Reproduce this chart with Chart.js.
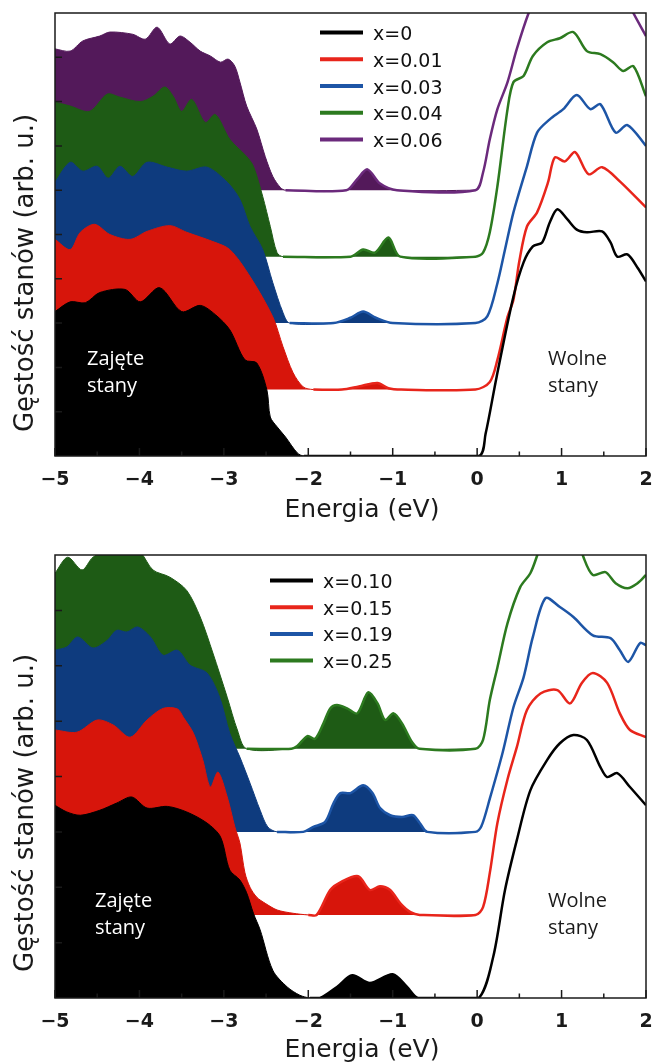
<!DOCTYPE html>
<html>
<head>
<meta charset="utf-8">
<script src="https://cdn.jsdelivr.net/npm/chart.js@4.4.1/dist/chart.umd.min.js"></script>
<style>
  body { margin: 0; background: #fff; width: 654px; height: 1063px; overflow: hidden; position: relative; }
  .panel { position: absolute; left: 0; width: 654px; }
  #topPanel { top: 0; height: 530px; }
  #bottomPanel { top: 540px; height: 523px; }
</style>
</head>
<body>
<div class="panel" id="topPanel"><canvas id="dosTop" width="654" height="530"></canvas></div>
<div class="panel" id="bottomPanel"><canvas id="dosBottom" width="654" height="523"></canvas></div>
<script>
// energy axis
const energyTicks = [-5, -4.5, -4, -3.5, -3, -2.5, -2, -1.5, -1, -0.5, 0, 0.5, 1, 1.5, 2];

// ---- upper panel: x = 0 ... 0.06 (DOS relative to each curve's own baseline)
const topLabels = ['x=0', 'x=0.01', 'x=0.03', 'x=0.04', 'x=0.06'];
const topOffsets = [0, 1.5, 3, 4.5, 6];

const topE0 = [-5, -4.82, -4.64, -4.47, -4.17, -3.99, -3.76, -3.5, -3.28, -3.1, -2.93, -2.75, -2.61, -2.49, -2.45, -2.37, -2.27, -2.13, -2.05, -1, 0.02, 0.1, 0.23, 0.43, 0.55, 0.66, 0.77, 0.86, 0.95, 1.07, 1.18, 1.3, 1.48, 1.58, 1.66, 1.78, 1.9, 2];
const topD0 = [3.26, 3.48, 3.46, 3.69, 3.76, 3.48, 3.8, 3.26, 3.4, 3.19, 2.85, 2.17, 2.1, 1.49, 0.88, 0.66, 0.43, 0.07, 0, 0, 0, 0.5, 1.78, 3.6, 4.37, 4.73, 4.82, 5.27, 5.57, 5.34, 5.11, 5.05, 5.07, 4.82, 4.5, 4.55, 4.25, 3.94];

const topE1 = [-5, -4.82, -4.7, -4.53, -4.35, -4.11, -3.91, -3.64, -3.44, -3.13, -2.93, -2.69, -2.42, -2.3, -2.18, -2.06, -1.94, -1.6, -1.4, -1.18, -1.05, -0.9, -0.02, 0.15, 0.24, 0.36, 0.43, 0.5, 0.59, 0.71, 0.84, 0.92, 1.04, 1.16, 1.32, 1.48, 1.69, 2];
const topD1 = [3.39, 3.16, 3.55, 3.73, 3.5, 3.39, 3.57, 3.7, 3.55, 3.34, 3.16, 2.55, 1.64, 0.97, 0.38, 0.06, 0, 0, 0.07, 0.15, 0.03, 0, 0, 0.17, 0.67, 1.64, 2.03, 2.9, 3.68, 4.0, 4.68, 5.24, 5.15, 5.36, 4.86, 5.02, 4.7, 4.11];

const topE2 = [-5, -4.82, -4.67, -4.5, -4.37, -4.23, -4.08, -3.91, -3.67, -3.44, -3.2, -2.96, -2.81, -2.69, -2.54, -2.42, -2.3, -2.22, -1.7, -1.5, -1.35, -1.2, -1.0, -0.02, 0.12, 0.24, 0.33, 0.43, 0.59, 0.71, 0.86, 1.02, 1.18, 1.34, 1.46, 1.64, 1.78, 2];
const topD2 = [3.18, 3.63, 3.43, 3.54, 3.27, 3.54, 3.31, 3.63, 3.52, 3.43, 3.52, 3.18, 2.79, 2.18, 1.66, 0.91, 0.24, 0, 0, 0.12, 0.26, 0.12, 0, 0, 0.15, 0.9, 1.66, 2.5, 3.54, 4.3, 4.6, 4.83, 5.15, 4.83, 4.94, 4.3, 4.47, 4.0];

const topE3 = [-5, -4.82, -4.59, -4.38, -4.23, -3.99, -3.84, -3.7, -3.6, -3.5, -3.38, -3.22, -3.1, -2.93, -2.73, -2.65, -2.54, -2.45, -2.37, -2.3, -1.5, -1.35, -1.21, -1.05, -0.91, -0.02, 0.07, 0.15, 0.24, 0.36, 0.43, 0.55, 0.66, 0.83, 0.98, 1.14, 1.3, 1.46, 1.61, 1.73, 1.85, 2];
const topD3 = [3.49, 3.4, 3.28, 3.67, 3.6, 3.5, 3.62, 3.83, 3.62, 3.28, 3.55, 3.03, 3.21, 2.65, 2.26, 2.04, 1.36, 0.68, 0.09, 0, 0, 0.16, 0.09, 0.43, 0, 0, 0.09, 0.55, 1.59, 3.33, 3.94, 4.08, 4.53, 4.84, 4.93, 5.07, 4.64, 4.57, 4.39, 4.19, 4.3, 3.62];

const topE4 = [-5, -4.82, -4.67, -4.47, -4.35, -4.08, -3.93, -3.79, -3.64, -3.52, -3.4, -3.28, -3.16, -3.04, -2.95, -2.87, -2.81, -2.73, -2.61, -2.51, -2.42, -2.33, -2.27, -1.55, -1.42, -1.3, -1.15, -0.95, -0.02, 0.07, 0.15, 0.24, 0.36, 0.47, 0.61, 0.75, 1.0, 1.5, 1.75, 1.85, 2];
const topD4 = [3.19, 3.14, 3.37, 3.48, 3.57, 3.52, 3.41, 3.68, 3.3, 3.48, 3.34, 3.14, 3.03, 2.89, 2.96, 2.8, 2.44, 1.9, 1.38, 0.76, 0.31, 0.06, 0, 0, 0.25, 0.47, 0.15, 0, 0, 0.4, 1.15, 1.83, 2.44, 3.19, 4.0, 4.6, 5, 5, 4.4, 4.0, 3.48];

// ---- lower panel: x = 0.10 ... 0.25
const bottomLabels = ['x=0.10', 'x=0.15', 'x=0.19', 'x=0.25'];
const bottomOffsets = [0, 1.5, 3, 4.5];

const botE0 = [-5, -4.86, -4.7, -4.47, -4.27, -4.09, -3.91, -3.67, -3.44, -3.2, -3.04, -2.93, -2.81, -2.73, -2.65, -2.57, -2.42, -2.25, -2.1, -1.98, -1.86, -1.66, -1.48, -1.27, -1.0, -0.83, -0.7, -0.3, 0.02, 0.19, 0.33, 0.47, 0.63, 0.83, 0.98, 1.14, 1.3, 1.46, 1.54, 1.66, 1.81, 2];
const botD0 = [3.48, 3.36, 3.3, 3.39, 3.52, 3.63, 3.43, 3.46, 3.36, 3.16, 2.91, 2.31, 2.13, 1.9, 1.53, 1.23, 0.5, 0.2, 0.05, 0, 0, 0.2, 0.41, 0.27, 0.43, 0.2, 0, 0, 0, 0.74, 1.95, 2.85, 3.75, 4.3, 4.6, 4.75, 4.66, 4.17, 3.99, 4.06, 3.81, 3.48];

const botE1 = [-5, -4.74, -4.5, -4.31, -4.11, -3.91, -3.72, -3.55, -3.48, -3.36, -3.25, -3.16, -3.07, -2.96, -2.87, -2.81, -2.75, -2.69, -2.61, -2.51, -2.37, -2.18, -2.0, -1.9, -1.74, -1.62, -1.41, -1.27, -1.15, -1.03, -0.91, -0.79, -0.68, -0.02, 0.07, 0.15, 0.24, 0.36, 0.47, 0.59, 0.75, 0.95, 1.1, 1.24, 1.37, 1.54, 1.69, 1.81, 2];
const botD1 = [3.34, 3.3, 3.52, 3.43, 3.21, 3.52, 3.73, 3.72, 3.57, 3.28, 2.8, 2.31, 2.58, 2.13, 1.59, 1.3, 0.76, 0.5, 0.32, 0.21, 0.09, 0.03, 0, 0, 0.45, 0.59, 0.7, 0.45, 0.52, 0.45, 0.21, 0.05, 0, 0, 0.14, 0.76, 1.66, 2.45, 3.03, 3.7, 4.0, 4.06, 3.82, 4.19, 4.37, 4.19, 3.64, 3.34, 3.21];

const botE2 = [-5, -4.86, -4.73, -4.55, -4.38, -4.27, -4.15, -4.02, -3.87, -3.72, -3.55, -3.4, -3.2, -3.05, -2.93, -2.81, -2.69, -2.57, -2.48, -2.37, -2.06, -1.94, -1.8, -1.7, -1.62, -1.5, -1.35, -1.24, -1.15, -1.03, -0.89, -0.76, -0.68, -0.59, -0.02, 0.05, 0.15, 0.3, 0.43, 0.55, 0.66, 0.81, 0.98, 1.14, 1.37, 1.58, 1.69, 1.79, 1.93, 2];
const botD2 = [3.28, 3.34, 3.52, 3.32, 3.46, 3.64, 3.61, 3.7, 3.52, 3.19, 3.28, 3.01, 2.87, 2.43, 1.78, 1.35, 0.88, 0.39, 0.09, 0, 0, 0.09, 0.18, 0.52, 0.7, 0.7, 0.84, 0.7, 0.43, 0.3, 0.27, 0.3, 0.16, 0, 0, 0.1, 0.6, 1.42, 2.25, 2.79, 3.52, 4.22, 4.06, 3.88, 3.55, 3.5, 3.28, 3.07, 3.41, 3.37];

const botE3 = [-5, -4.85, -4.68, -4.55, -4.35, -4.15, -3.99, -3.84, -3.64, -3.44, -3.28, -3.13, -2.96, -2.84, -2.73, -2.2, -2.13, -2.01, -1.92, -1.82, -1.74, -1.66, -1.54, -1.42, -1.29, -1.18, -1.09, -0.99, -0.89, -0.77, -0.68, -0.02, 0.07, 0.15, 0.24, 0.36, 0.51, 0.63, 0.72, 0.85, 1.0, 1.15, 1.26, 1.37, 1.52, 1.64, 1.78, 1.9, 2];
const botD3 = [3.17, 3.46, 3.23, 3.46, 3.6, 3.65, 3.55, 3.23, 3.1, 2.86, 2.38, 1.73, 0.93, 0.34, 0, 0, 0.05, 0.23, 0.18, 0.46, 0.73, 0.79, 0.73, 0.64, 1.02, 0.82, 0.52, 0.64, 0.46, 0.12, 0, 0, 0.16, 0.88, 1.47, 2.27, 2.92, 3.17, 3.53, 4.1, 4.3, 4.0, 3.46, 3.14, 3.19, 2.99, 2.9, 2.99, 3.14];

const lineColors = ['#000000', '#e8251b', '#1d55a6', '#2c7a1f', '#6b2a7c'];
const fillColors = ['#000000', '#d7150b', '#0e3b7e', '#1e5b15', '#53195a'];

// a curve is two datasets: the occupied part filled down to its baseline,
// and the outline from the band edge onwards
function curveSets(energy, dos, offset, label, i) {
  const pts = energy.map((e, k) => ({ x: e, y: dos[k] + offset }));
  const start = dos.indexOf(0);
  return [
    {
      label: label,
      data: pts.slice(start),
      borderColor: lineColors[i],
      borderWidth: 2.5,
      pointRadius: 0,
      fill: false,
      tension: 0.3
    },
    {
      label: '',
      data: pts.filter(p => p.x <= 0),
      borderColor: fillColors[i],
      backgroundColor: fillColors[i],
      borderWidth: 1,
      pointRadius: 0,
      fill: { value: offset },
      tension: 0.3
    }
  ];
}

// frame, inward ticks, axis titles, legend and the two notes
const decor = {
  id: 'decor',
  afterDatasetsDraw(chart, args, o) {
    const { ctx, chartArea: a, scales: { x, y } } = chart;
    ctx.save();
    ctx.strokeStyle = '#1a1a1a';
    ctx.lineWidth = 1.5;
    ctx.beginPath();
    energyTicks.forEach(e => {
      const px = x.getPixelForValue(e);
      const len = Number.isInteger(e) ? 8 : 4.5;
      ctx.moveTo(px, a.bottom);
      ctx.lineTo(px, a.bottom - len);
    });
    for (let v = 1; v < o.yMax; v++) {
      const py = y.getPixelForValue(v);
      ctx.moveTo(a.left, py);
      ctx.lineTo(a.left + 7, py);
    }
    ctx.stroke();
    ctx.strokeRect(a.left, a.top, a.right - a.left, a.bottom - a.top);

    // axis titles
    ctx.fillStyle = '#1a1a1a';
    ctx.font = '25px "DejaVu Sans"';
    ctx.textAlign = 'center';
    ctx.textBaseline = 'alphabetic';
    ctx.fillText('Energia (eV)', 362, 517);
    ctx.save();
    ctx.translate(33, 273);
    ctx.rotate(-Math.PI / 2);
    ctx.font = '26px "DejaVu Sans"';
    ctx.fillText('Gęstość stanów (arb. u.)', 0, 0);
    ctx.restore();

    // legend
    ctx.font = '19px "DejaVu Sans"';
    ctx.textAlign = 'left';
    chart.data.datasets.filter(d => d.label).forEach((d, k) => {
      const by = o.legend.y + k * o.legend.gap;
      ctx.strokeStyle = d.borderColor;
      ctx.lineWidth = 4;
      ctx.beginPath();
      ctx.moveTo(o.legend.x, by - 7.5);
      ctx.lineTo(o.legend.x + 43, by - 7.5);
      ctx.stroke();
      ctx.fillStyle = '#111';
      ctx.fillText(d.label, o.legend.x + 53, by);
    });

    // band notes
    ctx.font = '20px "Open Sans"';
    o.notes.forEach(n => {
      ctx.fillStyle = n.color;
      ctx.fillText(n.lines[0], n.x, n.y);
      ctx.fillText(n.lines[1], n.x, n.y + 27);
    });
    ctx.restore();
  }
};

function makeChart(id, sets, yMax, padTop, xHeight, legend, notes) {
  return new Chart(document.getElementById(id), {
    type: 'line',
    data: { datasets: sets },
    options: {
      responsive: false,
      animation: false,
      layout: { padding: { left: 55, right: 8, top: padTop, bottom: 0 } },
      plugins: {
        legend: { display: false },
        tooltip: { enabled: false },
        decor: { yMax: yMax, legend: legend, notes: notes }
      },
      scales: {
        x: {
          type: 'linear',
          min: -5,
          max: 2,
          grid: { display: false, drawTicks: false },
          border: { display: false },
          ticks: {
            stepSize: 1,
            padding: 13,
            color: '#1a1a1a',
            font: { family: 'DejaVu Sans', size: 19, weight: 'bold' },
            callback: v => (v < 0 ? '\u2212' + Math.abs(v) : String(v))
          },
          afterFit: s => {
            s.height = xHeight;
            s.paddingLeft = 0;
            s.paddingRight = 0;
          }
        },
        y: { display: false, min: 0, max: yMax }
      }
    },
    plugins: [decor]
  });
}

const topSets = [
  ...curveSets(topE0, topD0, topOffsets[0], topLabels[0], 0),
  ...curveSets(topE1, topD1, topOffsets[1], topLabels[1], 1),
  ...curveSets(topE2, topD2, topOffsets[2], topLabels[2], 2),
  ...curveSets(topE3, topD3, topOffsets[3], topLabels[3], 3),
  ...curveSets(topE4, topD4, topOffsets[4], topLabels[4], 4)
];
const bottomSets = [
  ...curveSets(botE0, botD0, bottomOffsets[0], bottomLabels[0], 0),
  ...curveSets(botE1, botD1, bottomOffsets[1], bottomLabels[1], 1),
  ...curveSets(botE2, botD2, bottomOffsets[2], bottomLabels[2], 2),
  ...curveSets(botE3, botD3, bottomOffsets[3], bottomLabels[3], 3)
];

makeChart('dosTop', topSets, 10, 13, 74, { x: 320, y: 40, gap: 26.75 }, [
  { lines: ['Zajęte', 'stany'], x: 87, y: 365, color: '#ffffff' },
  { lines: ['Wolne', 'stany'], x: 548, y: 365, color: '#1a1a1a' }
]);
makeChart('dosBottom', bottomSets, 8, 15, 65, { x: 270, y: 48, gap: 26.7 }, [
  { lines: ['Zajęte', 'stany'], x: 95, y: 367, color: '#ffffff' },
  { lines: ['Wolne', 'stany'], x: 548, y: 367, color: '#1a1a1a' }
]);
</script>
</body>
</html>
